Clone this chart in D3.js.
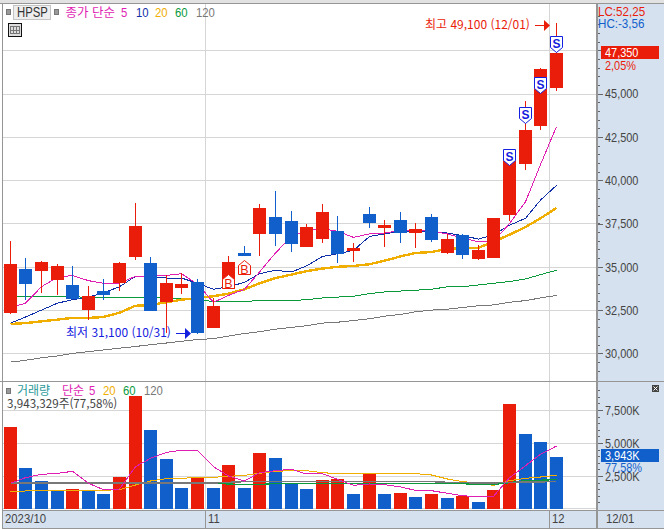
<!DOCTYPE html>
<html lang="ko">
<head>
<meta charset="utf-8">
<script src="https://cdn.jsdelivr.net/npm/d3@7/dist/d3.min.js"></script>
<style>
  html, body { margin: 0; padding: 0; background: #fff; overflow: hidden; }
  svg { display: block; }
  text { font-family: "Liberation Sans", sans-serif; font-size: 13.5px; }
  .kr { font-family: "Noto Sans CJK KR", sans-serif; font-size: 12px; }
</style>
</head>
<body>
<svg id="chart" width="664" height="530"></svg>
<script>
// Daily price history, KRW
const priceOpen = [32350,34850,34750,34250,33950,32500,33600,34050,35550,35200,32950,33800,34100,31450,33700,35800,36900,37900,37650,36150,36600,37050,35900,38050,37250,37700,36950,37850,35800,36850,35450,35500,38000,40950,43150,45350];
const priceClose = [35150,34000,35300,35050,33150,33300,33350,35200,37350,32450,34050,34000,31150,32750,35300,35600,38400,36900,36300,37300,38150,35750,36100,37550,37400,36950,37200,36550,36600,35700,35950,37800,41150,42900,46400,47350];
const priceHigh = [36500,35500,35350,35150,35050,33900,34300,35300,38700,35550,34550,34650,34300,33200,35600,36200,38600,39400,38200,37450,38600,37950,36350,38450,37700,38150,37550,38050,36900,36900,36250,37800,41500,44550,46500,49100];
const priceLow = [32250,33100,33500,33350,33150,31950,33100,33600,35400,32450,31200,33450,31100,31450,33700,35600,35600,36200,35850,36150,36350,35200,35300,37250,36150,36400,36100,36450,35750,35450,35400,35500,37650,40600,42900,45150];

// Closing-price moving averages
const ma5 = [32650,32900,33850,34400,34500,34200,34050,34050,34450,34450,34500,34600,34000,32950,33350,33700,34700,35800,36750,37100,37200,37050,36700,36900,36950,37100,37100,37050,36900,36650,36450,36450,37500,38750,40900,43100];
const ma10 = [31750,32100,32500,32900,33100,33250,33500,33850,34450,34400,34350,34350,34050,33700,33850,34100,34600,34800,34700,35050,35600,35750,35950,36750,36900,37050,37050,37000,36950,36800,36600,36850,37400,37800,38850,39700];
const ma20 = [31700,31750,31850,31950,32050,32050,32100,32350,32750,32800,32950,33100,33200,33300,33450,33700,34050,34350,34550,34750,34900,35000,35050,35150,35350,35600,35800,35850,36050,36050,36100,36450,36850,37300,37800,38400];
const ma60 = [33300,33300,33300,33300,33300,33200,33200,33200,33200,33200,33200,33150,33100,33000,33000,33000,33050,33050,33050,33100,33200,33250,33300,33450,33550,33600,33650,33700,33850,33850,33950,34050,34150,34300,34550,34800];
const ma120 = [29500,29600,29750,29850,30000,30100,30200,30300,30400,30500,30600,30700,30800,30850,31000,31150,31250,31400,31500,31600,31750,31800,31900,32000,32150,32250,32400,32500,32550,32650,32750,32800,32950,33050,33200,33350];

// Daily volume and its moving averages, thousands of shares
const volume = [6211,3106,2121,1363,1515,1363,1136,2424,8560,5984,3787,1590,2348,1590,3333,1590,4242,3863,1944,1515,2197,2272,1136,2651,1136,1212,909,1136,833,985,530,1439,7954,5681,5075,3943];
const vol5 = [1944,2374,2626,2702,2853,1944,1465,1515,3207,3838,4293,4444,4444,3207,2500,2121,2752,2904,3005,2651,2677,2247,1793,1894,1843,1667,1414,1389,1187,1010,909,960,2374,3283,4141,4772];
const vol20 = [1338,1364,1414,1414,1414,1414,1414,1465,1818,2121,2298,2323,2399,2399,2475,2550,2702,2853,2904,2904,2752,2677,2677,2677,2677,2677,2677,2576,2273,2071,1970,1793,2146,2323,2424,2550];
const vol60 = [1995,1995,1995,1995,1995,1995,1995,1995,1995,1995,1995,1995,1995,1995,1894,1843,1843,1944,1944,1944,1944,1944,1944,1944,1944,1944,1944,1944,1970,1919,1869,1869,1995,2146,2172,2247];
const vol120 = [1970,1970,1970,1970,1970,1970,1970,1970,1970,1970,1970,1970,1970,1970,2020,2071,2071,2071,2071,2071,2071,2071,2071,2071,2071,2071,2071,2071,2020,1995,1970,1970,2020,2045,2045,2096];

// Trade signals: bar index and the price the marker points at
const sellSignals = [[32,40900],[33,43300],[34,45050],[35,47400]];
const buySignals = [[14,34600],[15,35400]];

// Axis labels and the month boundaries, given as positions between bars
const priceTicks = [47500,45000,42500,40000,37500,35000,32500,30000];
const volumeTicks = [7500,5000,2500];
const monthBreaks = [[12.5,"11"],[34.5,"12"]];

const RED = "#ea1c0a", BLUE = "#115fcb", MAGENTA = "#e01eb4", NAVY = "#0f2fa8",
      ORANGE = "#f0ae00", GREEN = "#0a9a3c", GRAY = "#787878", TEAL = "#2b9a9a",
      FRAME = "#969696", GRID = "#d6d6d6", SIDE = "#d5e1ef", TICK = "#666", INK = "#444";

const svg = d3.select("#chart");
const W = 664, plotL = 3, plotR = 596, priceT = 4, volB = 509;

const bars = d3.range(priceClose.length);
const x = d3.scaleLinear().domain([0, 35]).range([10.3, 556.3]);
const xi = i => Math.floor(x(i));
const breakX = v => Math.round(x(v)) + .5;
const y = d3.scaleLinear().domain([30000, 47500]).range([353.4, 50.3]);
const yv = d3.scaleLinear().domain([0, 7500]).range([509, 410]);

// The numeric labels use a narrow letterform, so each run is squeezed horizontally
function squeeze(sel, k = 0.81) {
  sel.each(function () {
    this.setAttribute("textLength", this.getComputedTextLength() * k);
    this.setAttribute("lengthAdjust", "spacingAndGlyphs");
  });
  return sel;
}
const label = (lx, ly, color, t, k) => squeeze(svg.append("text").attr("x", lx).attr("y", ly).attr("fill", color).text(t), k);

// Side panel and date strip backgrounds
svg.append("rect").attr("width", W).attr("height", 3).attr("fill", "#e2e2e2");
svg.append("rect").attr("x", plotR).attr("y", 3).attr("width", W - plotR).attr("height", 525).attr("fill", SIDE);
svg.append("rect").attr("x", 2).attr("y", 510).attr("width", plotR - 2).attr("height", 18).attr("fill", SIDE);

// Grid
const grid = svg.append("g").attr("stroke", GRID).attr("shape-rendering", "crispEdges");
priceTicks.forEach(t => grid.append("line").attr("x1", plotL).attr("x2", plotR).attr("y1", Math.round(y(t)) + .5).attr("y2", Math.round(y(t)) + .5));
volumeTicks.forEach(t => grid.append("line").attr("x1", plotL).attr("x2", plotR).attr("y1", Math.round(yv(t)) + .5).attr("y2", Math.round(yv(t)) + .5));
grid.append("line").attr("x1", plotL).attr("x2", plotR).attr("y1", 508.5).attr("y2", 508.5);
monthBreaks.forEach(([v]) => grid.append("line").attr("x1", breakX(v)).attr("x2", breakX(v)).attr("y1", priceT).attr("y2", volB));

// Moving-average lines sit under the candles
const priceLine = d3.line().x((d, i) => xi(i) + .5).y(d => y(d));
const addLine = (g, gen, data, color, width) => g.append("path").attr("d", gen(data)).attr("fill", "none")
  .attr("stroke", color).attr("stroke-width", width).attr("shape-rendering", "crispEdges");
const maLayer = svg.append("g");
addLine(maLayer, priceLine, ma120, GRAY, 1);
addLine(maLayer, priceLine, ma60, GREEN, 1);
addLine(maLayer, priceLine, ma20, ORANGE, 2.4);
addLine(maLayer, priceLine, ma10, NAVY, 1);
addLine(maLayer, priceLine, ma5, MAGENTA, 1);

// Candles
const candles = svg.append("g").attr("shape-rendering", "crispEdges");
const candleColor = i => priceClose[i] >= priceOpen[i] ? RED : BLUE;
candles.selectAll(".wick").data(bars).join("rect").attr("class", "wick")
  .attr("x", xi).attr("width", 1)
  .attr("y", i => Math.round(y(priceHigh[i])))
  .attr("height", i => Math.round(y(priceLow[i])) - Math.round(y(priceHigh[i])))
  .attr("fill", candleColor);
candles.selectAll(".body").data(bars).join("rect").attr("class", "body")
  .attr("x", i => xi(i) - 6).attr("width", 13)
  .attr("y", i => Math.round(y(Math.max(priceOpen[i], priceClose[i]))))
  .attr("height", i => Math.max(2, Math.round(y(Math.min(priceOpen[i], priceClose[i]))) - Math.round(y(Math.max(priceOpen[i], priceClose[i])))))
  .attr("fill", candleColor);

// Sell markers point down at their price, buy markers point up
const shield = d3.line();
sellSignals.forEach(([i, p]) => {
  const cx = xi(i) + .5, tip = Math.round(y(p)) + .5;
  svg.append("path").attr("d", shield([[cx - 6, tip - 16], [cx + 6, tip - 16], [cx + 6, tip - 5], [cx, tip], [cx - 6, tip - 5]]) + "Z")
    .attr("fill", "#fff").attr("stroke", "#1420e0").attr("stroke-width", 1);
  svg.append("text").attr("x", cx).attr("y", tip - 5).attr("text-anchor", "middle")
    .attr("fill", "#1420e0").attr("font-weight", "700").style("font-size", "12px").text("S");
});
buySignals.forEach(([i, p]) => {
  const cx = xi(i) + .5, tip = Math.round(y(p)) + .5;
  svg.append("path").attr("d", shield([[cx, tip], [cx + 6, tip + 5], [cx + 6, tip + 14], [cx - 6, tip + 14], [cx - 6, tip + 5]]) + "Z")
    .attr("fill", "#fff").attr("stroke", RED).attr("stroke-width", 1);
  svg.append("text").attr("x", cx).attr("y", tip + 13).attr("text-anchor", "middle")
    .attr("fill", RED).style("font-size", "12.5px").text("B");
});

// High and low callouts
function callout(text, textX, cy, arrowX0, arrowX1, color) {
  svg.append("text").attr("class", "kr").attr("x", textX).attr("y", cy + 4).attr("fill", color).text(text);
  svg.append("path").attr("d", `M${arrowX0},${cy + .5}H${arrowX1 - 5}`).attr("stroke", color).attr("stroke-width", 1).attr("shape-rendering", "crispEdges");
  svg.append("path").attr("d", `M${arrowX1 - 6},${cy - 5}L${arrowX1},${cy + .5}L${arrowX1 - 6},${cy + 6}Z`).attr("fill", color);
}
callout("최고 49,100 (12/01)", 425, 25, 535, 550, RED);
callout("최저 31,100 (10/31)", 66, 333, 176, 191, "#1420e0");

// Volume panel: bars are red when volume rose from the previous day
const volColor = i => (i === 0 || volume[i] >= volume[i - 1]) ? RED : BLUE;
svg.append("g").attr("shape-rendering", "crispEdges").selectAll("rect").data(bars).join("rect")
  .attr("x", i => xi(i) - 6).attr("width", 13)
  .attr("y", i => Math.round(yv(volume[i])))
  .attr("height", i => yv(0) - Math.round(yv(volume[i])))
  .attr("fill", volColor);
const volLine = d3.line().x((d, i) => xi(i) + .5).y(d => yv(d));
const volLayer = svg.append("g");
addLine(volLayer, volLine, vol20, ORANGE, 1);
addLine(volLayer, volLine, vol60, GREEN, 1.4);
addLine(volLayer, volLine, vol120, GRAY, 1.4);
addLine(volLayer, volLine, vol5, MAGENTA, 1);

// Right-hand axes
function sideAxis(scale, majors, minors, fmt) {
  const g = svg.append("g").attr("shape-rendering", "crispEdges");
  g.selectAll(".minor").data(minors).join("line").attr("class", "minor")
    .attr("x1", 597).attr("x2", 600).attr("y1", d => Math.round(scale(d)) + .5).attr("y2", d => Math.round(scale(d)) + .5).attr("stroke", TICK);
  const ax = d3.axisRight(scale).tickValues(majors).tickSize(6).tickPadding(2).tickFormat(fmt);
  const a = svg.append("g").attr("transform", "translate(597,0)").call(ax);
  a.select(".domain").remove();
  a.selectAll("line").attr("stroke", TICK).attr("shape-rendering", "crispEdges");
  squeeze(a.selectAll("text").attr("fill", INK).style("font-size", "13.5px").style("font-family", "'Liberation Sans', sans-serif"));
}
sideAxis(y, priceTicks, d3.range(28500, 50000, 500).filter(d => y(d) > 8 && y(d) < 378), d3.format(","));
sideAxis(yv, volumeTicks, d3.range(500, 9500, 500).filter(d => yv(d) > 385 && yv(d) < 507), d => d3.format(",")(d) + "K");

// Current price and volume tags
svg.append("rect").attr("x", 601).attr("y", 46).attr("width", 58).attr("height", 13).attr("fill", RED);
label(605, 57, "#fff", "47,350");
label(605, 70, RED, "2,05%");
svg.append("rect").attr("x", 601).attr("y", 449).attr("width", 58).attr("height", 13).attr("fill", BLUE);
label(605, 460, "#fff", "3,943K");
label(605, 472, BLUE, "77,58%");
label(598, 16, RED, "LC:52,25", 0.86);
label(598, 28, BLUE, "HC:-3,56", 0.86);

// Panel frame
const frame = svg.append("g").attr("stroke", FRAME).attr("shape-rendering", "crispEdges").attr("fill", "none");
[[0, 3.5, W, 3.5], [0, 381.5, W, 381.5], [2, 510.5, W, 510.5], [2, 528.5, W, 528.5],
 [2.5, 3, 2.5, 529], [596.5, 3, 596.5, 529], [597.5, 3, 597.5, 529],
 ...monthBreaks.map(([v]) => [breakX(v), 510, breakX(v), 528])]
  .forEach(([a, b, c, d]) => frame.append("line").attr("x1", a).attr("y1", b).attr("x2", c).attr("y2", d));

// Date strip
label(5, 523, INK, "2023/10", 0.84);
monthBreaks.forEach(([v, t]) => label(breakX(v) + 2.5, 523, INK, t, 0.84));
label(606, 523, INK, "12/01", 0.84);

// Legends
const swatch = (sx, sy) => svg.append("rect").attr("x", sx + .5).attr("y", sy + .5).attr("width", 4).attr("height", 5)
  .attr("fill", "#999").attr("stroke", "#777").attr("shape-rendering", "crispEdges");
swatch(6, 9);
swatch(54, 9);
svg.append("rect").attr("x", 13.5).attr("y", 5.5).attr("width", 37).attr("height", 14).attr("fill", "#eee").attr("stroke", "#c4c4c4").attr("shape-rendering", "crispEdges");
label(17, 17, "#333", "HPSP", 0.84).style("font-size", "14px");
svg.append("text").attr("class", "kr").attr("x", 65.5).attr("y", 17).attr("fill", MAGENTA).style("font-size", "12.5px").text("종가 단순");
[[121, "5", MAGENTA], [136, "10", NAVY], [155, "20", ORANGE], [175, "60", GREEN], [196, "120", GRAY]]
  .forEach(([lx, t, c]) => label(lx, 17, c, t, 0.84));

// Table icon
svg.append("rect").attr("x", 8.5).attr("y", 23.5).attr("width", 13).attr("height", 13).attr("fill", "#ddd").attr("stroke", "#111").attr("shape-rendering", "crispEdges");
const icon = svg.append("g").attr("stroke", "#777").attr("shape-rendering", "crispEdges");
[[10.5, 26.5, 19.5, 26.5], [10.5, 30.5, 19.5, 30.5], [10.5, 33.5, 19.5, 33.5], [10.5, 26, 10.5, 34], [13.5, 26, 13.5, 34], [16.5, 26, 16.5, 34], [19.5, 26, 19.5, 34]]
  .forEach(([a, b, c, d]) => icon.append("line").attr("x1", a).attr("y1", b).attr("x2", c).attr("y2", d));

swatch(6, 388);
svg.append("text").attr("class", "kr").attr("x", 17).attr("y", 395).attr("fill", TEAL).text("거래량");
svg.append("text").attr("class", "kr").attr("x", 62).attr("y", 395).attr("fill", MAGENTA).text("단순");
[[89, "5", MAGENTA], [103, "20", ORANGE], [123, "60", GREEN], [144, "120", GRAY]]
  .forEach(([lx, t, c]) => label(lx, 395, c, t, 0.84));
squeeze(svg.append("text").attr("class", "kr").attr("x", 7).attr("y", 408).attr("fill", INK).text("3,943,329주(77,58%)"), 0.97);

// Panel close button
svg.append("rect").attr("x", 652).attr("y", 385).attr("width", 7).attr("height", 7).attr("fill", "#444");
svg.append("path").attr("d", "M653.5,386.5L657.5,390.5M657.5,386.5L653.5,390.5").attr("stroke", "#fff").attr("stroke-width", 1);
</script>
</body>
</html>
